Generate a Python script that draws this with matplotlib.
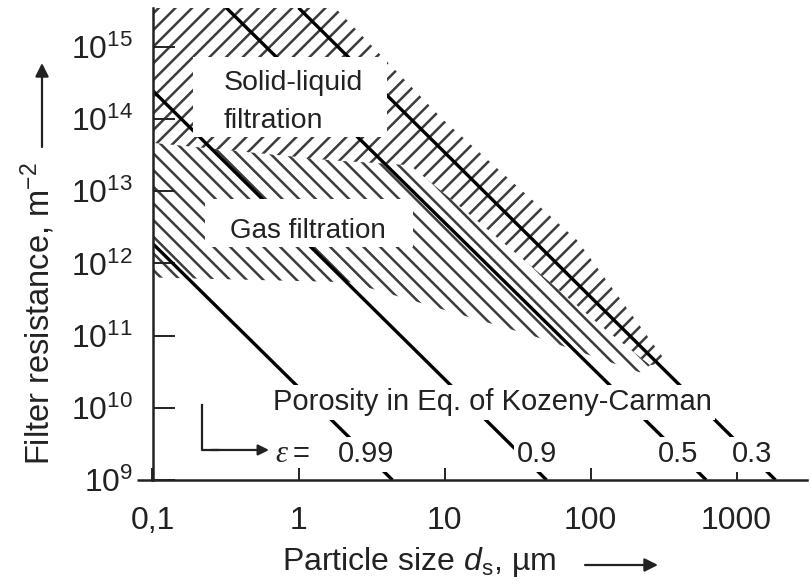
import numpy as np
import matplotlib.pyplot as plt
from matplotlib.patches import Polygon, Rectangle
from matplotlib.ticker import FixedLocator, FixedFormatter, NullLocator

plt.rcParams['font.family'] = ['Liberation Sans', 'DejaVu Sans']
plt.rcParams['mathtext.fontset'] = 'custom'
plt.rcParams['mathtext.rm'] = 'Liberation Sans'
plt.rcParams['mathtext.it'] = 'Liberation Sans:italic'
plt.rcParams['hatch.linewidth'] = 1.8

INK = '#222222'
HATCH = '#3c3c3c'

# Kozeny-Carman lines, end points: particle size (µm) and filter resistance (1/m²)
porosity = ['0.99', '0.9', '0.5', '0.3']
line_d = [[0.1, 4.4], [0.1, 50], [0.32, 620], [1.0, 1850]]
line_r = [[1.9e12, 1e9], [2.5e14, 1e9], [3.5e15, 1e9], [3.5e15, 1e9]]

# range of solid-liquid filtration (outline)
solid_d = [0.1, 1.78, 9.8, 81, 334, 256, 116, 38.5, 15, 5.8, 1.65, 0.1]
solid_r = [3.5e15, 3.5e15, 9.8e13, 2.1e12, 4.2e10, 3.9e10, 1.4e11, 9.5e11,
           4.7e12, 2.3e13, 2.7e13, 4.7e13]

# range of gas filtration (outline)
gas_d = [0.1, 1.65, 5.8, 15, 38.5, 116, 256, 218, 40, 2.25, 0.1]
gas_r = [4.7e13, 2.7e13, 2.3e13, 4.7e12, 9.5e11, 1.4e11, 3.9e10, 3.1e10,
         1.0e11, 5.5e11, 6.4e11]

x_ticks = [0.1, 1, 10, 100, 1000]
x_labels = ['0,1', '1', '10', '100', '1000']
y_exp = [9, 10, 11, 12, 13, 14, 15]
y_ticks = [10.0 ** e for e in y_exp]
y_labels = [r'$\mathregular{10^{%d}}$' % e for e in y_exp]

fig = plt.figure(figsize=(8.11, 5.84), dpi=100)
ax = fig.add_axes([152.5 / 811, 104 / 584, 654.5 / 811, 472 / 584])
ax.set_xscale('log')
ax.set_yscale('log')
ax.set_xlim(0.1, 3040)
ax.set_ylim(1e9, 3.47e15)

# hatched areas
ax.add_patch(Polygon(np.column_stack([solid_d, solid_r]), closed=True,
                     facecolor='none', edgecolor=HATCH, linewidth=0,
                     hatch='//', zorder=1))
ax.add_patch(Polygon(np.column_stack([gas_d, gas_r]), closed=True,
                     facecolor='none', edgecolor=HATCH, linewidth=0,
                     hatch='\\\\', zorder=1))

for d, r in zip(line_d, line_r):
    ax.plot(d, r, color='black', lw=2.4, solid_capstyle='butt', zorder=2)

# white boxes behind the area names
ax.add_patch(Rectangle((0.062, 0.727), 0.296, 0.169, transform=ax.transAxes,
                       facecolor='white', edgecolor='none', zorder=3))
ax.add_patch(Rectangle((0.080, 0.493), 0.318, 0.102, transform=ax.transAxes,
                       facecolor='white', edgecolor='none', zorder=3))

ax.text(0.108, 0.826, 'Solid-liquid', fontsize=20.5, color=INK,
        transform=ax.transAxes, va='baseline', zorder=4)
ax.text(0.108, 0.746, 'filtration', fontsize=20.5, color=INK,
        transform=ax.transAxes, va='baseline', zorder=4)
ax.text(0.118, 0.513, 'Gas filtration', fontsize=20, color=INK,
        transform=ax.transAxes, va='baseline', zorder=4)

white = dict(facecolor='white', edgecolor='none', pad=2.5)
ax.text(0.184, 0.148, 'Porosity in Eq. of Kozeny-Carman', fontsize=21,
        color=INK, transform=ax.transAxes, va='baseline', bbox=white, zorder=4)

eps_x = [0.2835, 0.557, 0.7723, 0.8854]
for lab, xx in zip(porosity, eps_x):
    ax.text(xx, 0.038, lab, fontsize=21, color=INK, transform=ax.transAxes,
            va='baseline', bbox=white, zorder=4)
ax.text(0.187, 0.038, 'ε', fontsize=22, color=INK, family='Liberation Serif',
        style='italic', transform=ax.transAxes, va='baseline', zorder=4)
ax.text(0.2148, 0.038, '=', fontsize=21, color=INK, transform=ax.transAxes,
        va='baseline', zorder=4)

# bent arrow pointing at the porosity values
ax.plot([0.0756, 0.0756, 0.10], [0.159, 0.0636, 0.0636], color=INK, lw=1.6,
        transform=ax.transAxes, clip_on=False, zorder=4)
ax.annotate('', xy=(0.178, 0.0636), xytext=(0.09, 0.0636),
            xycoords='axes fraction',
            arrowprops=dict(arrowstyle='-|>', color=INK, lw=1.6,
                            mutation_scale=16, shrinkA=0, shrinkB=0))

# axes styling
for side in ['top', 'right']:
    ax.spines[side].set_visible(False)
for side in ['left', 'bottom']:
    ax.spines[side].set_linewidth(1.8)
    ax.spines[side].set_color(INK)
ax.plot([-0.024, 0], [0, 0], color=INK, lw=1.8, transform=ax.transAxes,
        clip_on=False, solid_capstyle='butt')

ax.xaxis.set_major_locator(FixedLocator(x_ticks))
ax.xaxis.set_major_formatter(FixedFormatter(x_labels))
ax.xaxis.set_minor_locator(NullLocator())
ax.yaxis.set_major_locator(FixedLocator(y_ticks))
ax.yaxis.set_major_formatter(FixedFormatter(y_labels))
ax.yaxis.set_minor_locator(NullLocator())
ax.tick_params(axis='x', direction='in', length=8.6, width=1.4, pad=19,
               labelsize=23, colors=INK)
ax.tick_params(axis='y', direction='in', length=16, width=1.4, pad=14,
               labelsize=23, colors=INK)

# axis titles with arrows
fig.text(282 / 811, 14 / 584, r'Particle size $d_\mathregular{s}$, µm',
         fontsize=23, color=INK, ha='left', va='baseline')
ax.annotate('', xy=(658 / 811, 19 / 584), xytext=(585 / 811, 19 / 584),
            xycoords='figure fraction',
            arrowprops=dict(arrowstyle='-|>', color=INK, lw=1.6,
                            mutation_scale=20, shrinkA=0, shrinkB=0))
fig.text(38 / 811, 1 - 314 / 584, r'Filter resistance, m$^{\mathregular{-2}}$',
         fontsize=23.5, color=INK, rotation=90, ha='center', va='center')
ax.annotate('', xy=(42 / 811, 1 - 63 / 584), xytext=(42 / 811, 1 - 147 / 584),
            xycoords='figure fraction',
            arrowprops=dict(arrowstyle='-|>', color=INK, lw=1.6,
                            mutation_scale=20, shrinkA=0, shrinkB=0))

fig.savefig('out.png', dpi=100)
